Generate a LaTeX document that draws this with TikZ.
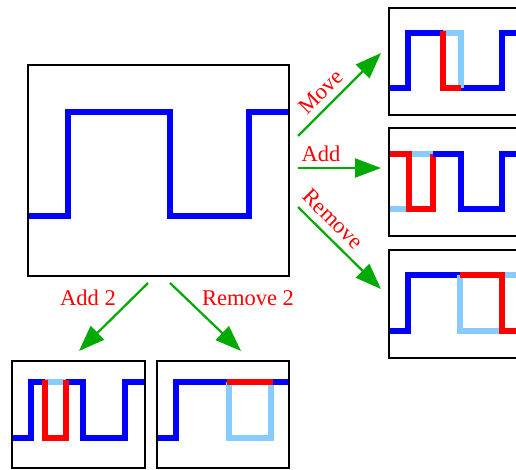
\documentclass[tikz,border=0pt]{standalone}
\usepackage{fontspec}
\setmainfont{Liberation Serif}
\usetikzlibrary{arrows.meta}
\definecolor{grn}{RGB}{0,170,0}
\definecolor{lblue}{RGB}{136,204,255}
\tikzset{
  box/.style={draw=black,line width=2.3pt,anchor=north west,inner sep=0pt},
  wave/.style={line width=5.5pt,line join=miter},
  bw/.style={wave,draw=blue},
  lw/.style={wave,draw=lblue},
  rw/.style={wave,draw=red},
  arr/.style={draw=grn,line width=2.2pt,-{Triangle[length=26pt,width=19pt]}},
  lab/.style={text=red,font=\fontsize{22.5}{25}\selectfont,inner sep=0pt}
}
\begin{document}
\begin{tikzpicture}[x=1pt,y=-1pt]
\clip (0,0) rectangle (516,469);
\fill[white] (0,0) rectangle (516,469);
% main box
\draw[bw] (27,216) -- (68,216) -- (68,112) -- (170,112) -- (170,216) -- (249,216) -- (249,112) -- (288,112);
\node[box,minimum width=261pt,minimum height=211pt] (main) at (27,64) {};
% top box 1 (Move)
\draw[bw] (388,88) -- (408,88) -- (408,33) -- (443,33);
\draw[bw] (461,88) -- (502,88) -- (502,33) -- (530,33);
\draw[lw] (443,33) -- (461,33) -- (461,88);
\draw[rw] (443,30.5) -- (443,88) -- (461,88);
\node[box,minimum width=140pt,minimum height=107pt] (b1) at (388,7) {};
% top box 2 (Add)
\draw[lw] (388,209) -- (409,209) -- (409,154) -- (433,154);
\draw[rw] (388,154) -- (409,154) -- (409,209) -- (433,209) -- (433,154);
\draw[bw] (433,154) -- (461,154) -- (461,209) -- (502,209) -- (502,154) -- (530,154);
\node[box,minimum width=140pt,minimum height=108pt] (b2) at (388,127) {};
% top box 3 (Remove)
\draw[bw] (388,331) -- (408,331) -- (408,275) -- (460,275);
\draw[lw] (460,275) -- (460,331) -- (502,331) -- (502,275) -- (530,275);
\draw[rw] (460,275) -- (502,275) -- (502,331) -- (530,331);
\node[box,minimum width=140pt,minimum height=108pt] (b3) at (388,249) {};
% bottom box 1 (Add 2)
\draw[bw] (11,438) -- (31,438) -- (31,382) -- (45,382);
\draw[bw] (66,382) -- (83,382) -- (83,438) -- (125,438) -- (125,382) -- (144,382);
\draw[lw] (45,382) -- (66,382);
\draw[rw] (45,379.5) -- (45,438) -- (66,438) -- (66,379.5);
\node[box,minimum width=133pt,minimum height=107pt] (b4) at (11,360) {};
% bottom box 2 (Remove 2)
\draw[bw] (156,438) -- (176,438) -- (176,382) -- (229,382);
\draw[lw] (229,382) -- (229,438) -- (271,438) -- (271,382);
\draw[bw] (271,382) -- (288,382);
\draw[rw] (227,382) -- (273,382);
\node[box,minimum width=132pt,minimum height=107pt] (b5) at (156,360) {};
% arrows
\coordinate (s1) at (298,136);
\coordinate (e1) at (381,53);
\coordinate (s2) at (298,168);
\coordinate (e2) at (381,168);
\coordinate (s3) at (298,207);
\coordinate (e3) at (381,289);
\coordinate (s4) at (148,283);
\coordinate (e4) at (79,351);
\coordinate (s5) at (170,283);
\coordinate (e5) at (241,351);
\draw[arr] (s1) -- (e1);
\draw[arr] (s2) -- (e2);
\draw[arr] (s3) -- (e3);
\draw[arr] (s4) -- (e4);
\draw[arr] (s5) -- (e5);
% labels
\node[lab,rotate=45] (l1) at (321,92) {Move};
\node[lab] (l2) at (321,154) {Add};
\node[lab,rotate=-45] (l3) at (333,219) {Remove};
\node[lab] (l4) at (88,298) {Add 2};
\node[lab] (l5) at (248,298) {Remove 2};
\end{tikzpicture}
\end{document}
